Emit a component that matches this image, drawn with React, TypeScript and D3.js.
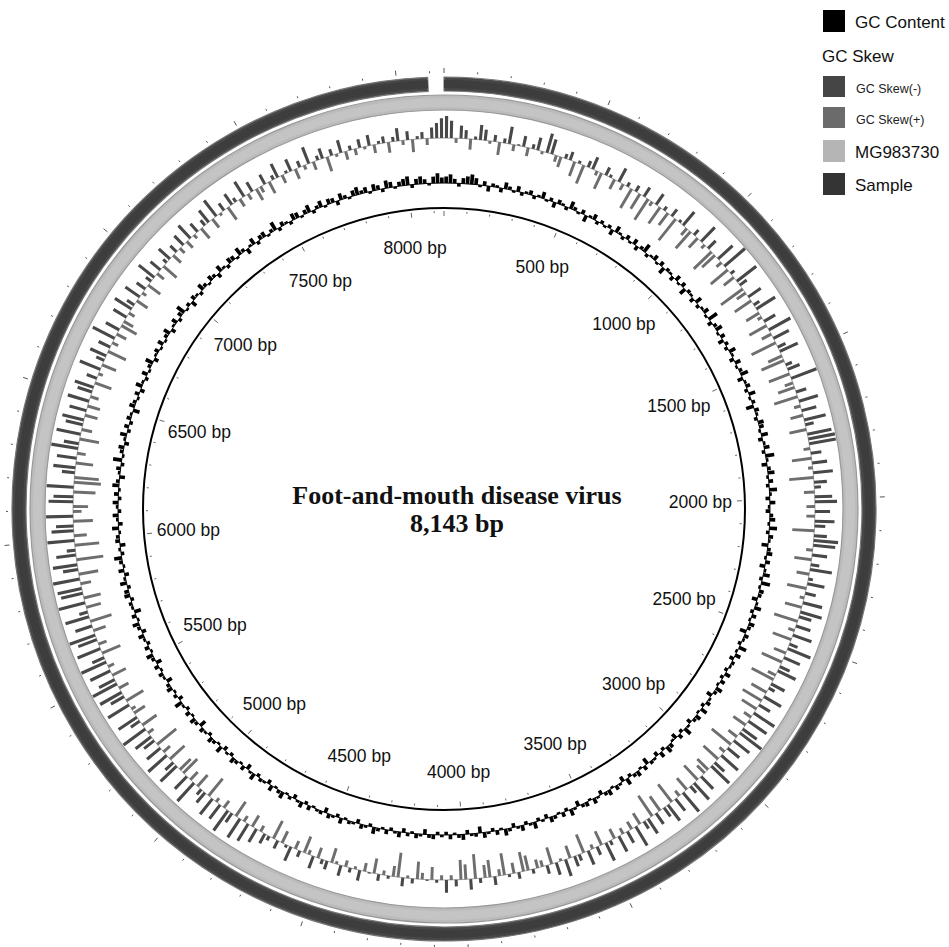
import React from "react";
import * as d3 from "d3";

// ---------- data ----------
const genomeLength = 8143;
const sampleStart = 0;
const sampleEnd = 8094; // Sample track ends just before the origin
const referenceStart = 0;
const referenceEnd = 8143; // MG983730 covers the whole circle
const tickStep = 100;
const labelStep = 500;
const titleLine = "Foot-and-mouth disease virus";
const sizeLine = "8,143 bp";

// GC content deviation per window (clockwise from origin, 480 windows)
const gcContent: number[] = [
  6, 8, 4, -3, 5, 7, 9, 6, -2, 4, -5, 3, 2, -4, 6, 3, -2, 5, -3, 2,
  4, -3, 2, 6, -2, 3, -5, 4, 2, -3, 7, 3, -2, 4, -6, 2, 5, -3, 3, -2,
  3, -5, 6, 2, -3, 4, -2, 5, -4, 3, 8, -3, 2, 5, -2, 4, -6, 3, 2, -4,
  5, -2, 4, -6, 3, 2, -4, 6, -3, 2, 5, -2, 9, -4, 3, 6, -2, 4, -5, 3,
  -3, 6, 2, -4, 5, -2, 3, 7, -5, 2, 4, -3, 6, -2, 3, -7, 4, 2, -3, 5,
  4, -2, 6, -4, 2, 5, -3, 8, 2, -5, 3, 6, -2, 4, -3, 7, 2, -4, 5, -2,
  -4, 3, 5, -2, 7, -3, 4, 2, -6, 3, 5, -2, 4, -5, 2, 6, -3, 8, -2, 4,
  3, -5, 2, 6, -3, 4, -2, 5, 3, -6, 4, 2, -3, 7, -2, 5, -4, 3, 2, -3,
  5, -3, 4, -2, 6, 3, -5, 2, 4, -3, 6, -2, 5, 3, -4, 2, 7, -3, 4, -5,
  -2, 4, 6, -3, 5, -4, 2, 3, -6, 4, -2, 5, 3, -3, 6, -5, 2, 4, -2, 5,
  3, -4, 2, 5, -2, 4, 3, -5, 2, 6, -3, 4, -2, 3, 5, -4, 2, -3, 6, 2,
  -3, 5, 2, -4, 3, 6, -2, 4, -3, 2, 5, -6, 3, 2, -4, 5, 3, -2, 4, -3,
  2, -3, 4, 3, -5, 2, 4, -2, 3, -4, 5, 2, -3, 4, -2, 3, 6, -3, 2, 4,
  -4, 2, 3, -2, 5, -3, 2, 4, -5, 3, 2, -2, 4, -3, 5, 2, -4, 3, -2, 6,
  3, -2, 5, -4, 2, 3, -3, 6, 2, -5, 4, -2, 3, 5, -3, 2, -4, 6, -2, 3,
  5, -3, 2, 4, -6, 3, 5, -2, 4, -3, 2, 7, -4, 3, -2, 5, 3, -5, 2, 4,
  -2, 4, -5, 3, 6, -2, 4, -3, 2, 5, -4, 3, 6, -2, 4, -6, 2, 3, -3, 5,
  4, -3, 6, 2, -4, 5, -2, 3, 7, -3, 2, -5, 4, 3, -2, 6, -4, 2, 5, -3,
  2, 5, -3, 4, -2, 6, 3, -5, 2, 4, -3, 8, -2, 3, 5, -4, 2, 6, -3, 4,
  -3, 4, 2, -6, 5, 3, -2, 4, -4, 6, 2, -3, 5, -2, 3, 7, -4, 2, 4, -2,
  5, -2, 3, 6, -4, 2, 5, -3, 4, 8, -2, 3, -5, 4, 2, -3, 6, 3, -2, 5,
  3, -4, 6, 2, -3, 5, 4, -2, 7, 3, -5, 2, 6, -3, 4, 5, -2, 3, 8, -3,
  4, 2, -3, 6, 5, -2, 4, 7, -3, 3, 6, -2, 5, 4, -4, 6, 3, -2, 5, 7,
  3, 5, -2, 6, 4, -3, 7, 5, -2, 4, 6, 8, -3, 5, 7, 4, -2, 6, 9, 5,
];

// GC skew per window (clockwise from origin, 480 windows)
const gcSkew: number[] = [
  22, 18, -6, 14, 10, -12, 4, 16, 12, -4, 8, -14, 6, 18, -8, 2, 12, -10, 6, 14,
  -4, 20, 16, -8, -12, 6, 10, -16, 4, -20, 8, 14, -6, -18, 10, 4, -12, 16, -8, 6,
  -22, 8, -18, 12, -24, -6, 14, -20, 6, -16, 10, -26, 4, 18, -10, -22, 8, -14, 20, -6,
  12, -24, -18, 20, -8, 26, -22, 6, -14, 24, 10, -26, -12, 16, -20, 8, 22, -16, -6, 14,
  -20, 24, -12, 18, -26, 10, 20, -16, -24, 8, 14, -22, 26, -10, -18, 12, -24, 20, -8, 16,
  -14, 22, 10, -18, 24, 26, 26, -8, 12, -20, 16, -6, 20, -24, 14, 8, -12, 18, 22, -10,
  16, -10, 20, 12, -22, 14, 24, 22, -8, 16, -18, 10, 22, -14, 6, 18, -20, 12, -6, 20,
  -18, 22, 14, -24, 16, -8, 20, -20, 10, 24, -14, 18, -22, 12, 20, -10, -24, 16, 8, -18,
  20, -22, 14, -18, 24, -10, 22, -16, 18, 26, -12, 20, -24, 16, -8, 22, -20, 14, 24, -16,
  -12, 18, -20, 22, 10, -16, 24, -8, 16, -22, 20, 12, -18, 14, -24, 18, 10, -14, 22, -10,
  14, -8, 18, -12, 6, 20, -16, 10, -6, 16, -20, 8, 12, -14, 18, -4, 14, -18, 10, -8,
  -10, 6, -16, -20, 8, -12, 4, -22, -8, 10, -18, -14, 6, -24, 12, -16, -20, 8, -6, 14,
  -6, 4, -14, 2, -8, -18, 6, -4, 10, -24, -12, 4, -6, 8, -16, 2, -10, 12, -4, 6,
  -8, 12, -4, -16, 10, 6, -12, 14, -6, -18, 8, -10, 16, 4, -14, 10, -20, 6, 12, -8,
  16, -14, 20, -8, 22, -18, 12, 24, -10, 18, -6, 20, -22, 14, 8, -16, 24, -12, 18, -20,
  -16, 22, 12, -20, 24, -10, 18, -24, 14, 20, -8, 26, -18, 12, 22, -14, -6, 24, -20, 16,
  24, -12, 26, 18, -16, 22, -8, 26, 14, -20, 24, -10, 20, 26, -14, 18, -22, 24, 10, -16,
  26, -18, 22, 24, -12, 26, -20, 16, 24, -26, 20, 10, -24, 26, -14, 22, 18, -20, 26, -10,
  -16, 24, 20, -22, 26, -26, -24, 14, 22, -18, 20, -10, 26, 16, -20, 24, -12, 18, 22, -14,
  18, -14, 22, -10, 16, 20, -18, 12, -6, 22, -16, 10, 18, -20, 14, -8, 24, -12, 16, -18,
  -12, 16, -8, 20, 10, -14, 18, -6, 12, -16, 8, 20, -10, 14, -18, 6, 16, -12, 10, -8,
  14, -10, 18, -6, 12, -14, 8, 16, -12, 20, -4, 10, -16, 14, 6, -10, 18, -8, 12, -14,
  -8, 12, -14, 6, 16, -10, 4, 14, -12, 8, -6, 18, -10, 6, 12, -16, 8, -4, 14, -10,
  6, -8, 10, -4, 12, -10, 4, 8, -12, 6, 14, -6, 10, -14, 4, 8, -8, 12, 16, 20,
];

const legendLabels = ["GC Content", "GC Skew(-)", "GC Skew(+)", "MG983730", "Sample"];
const legendColors = ["#000000", "#454545", "#6b6b6b", "#b5b5b5", "#343434"];
const legendHeading = "GC Skew";

// ---------- layout ----------
const W = 949;
const H = 947;
const cx = 444;
const cy = 509;
const innerR = 301;
const gcBase = 326;
const skewBase = 371;
const skewFraction = 0.62;
const gcFraction = 0.85;

export default function App() {
  const angle = d3.scaleLinear().domain([0, genomeLength]).range([0, 2 * Math.PI]);
  const gcR = d3.scaleLinear().domain([-12, 12]).range([gcBase - 13, gcBase + 13]);
  // bar length for |skew| (power scale keeps small windows short)
  const skewLen = d3.scalePow().exponent(1.2).domain([0, 26]).range([0, 27]);
  const skewR = (v: number) => skewBase + Math.sign(v) * skewLen(Math.abs(v));
  const arc = d3.arc<any>();

  const gcWin = genomeLength / gcContent.length;
  const skWin = genomeLength / gcSkew.length;

  const ticks = d3.range(0, genomeLength, tickStep);
  const labels = d3.range(labelStep, genomeLength, labelStep);

  const pt = (bp: number, r: number) => {
    const a = angle(bp);
    return [Math.sin(a) * r, -Math.cos(a) * r];
  };

  const ring = (r0: number, r1: number, s: number, e: number) =>
    arc({ innerRadius: r0, outerRadius: r1, startAngle: angle(s), endAngle: angle(e) }) as string;

  const bar = (r: (v: number) => number, v: number, i: number, win: number, frac: number) => {
    const mid = (i + 0.5) * win;
    const half = (win * frac) / 2;
    return arc({
      innerRadius: r(Math.min(0, v)),
      outerRadius: r(Math.max(0, v)),
      startAngle: angle(mid - half),
      endAngle: angle(mid + half),
    }) as string;
  };

  return (
    <svg
      width={W}
      height={H}
      style={{ position: "absolute", left: 0, top: 0, background: "#fff" }}
      fontFamily="Arial, 'Liberation Sans', Helvetica, sans-serif"
    >
      <g transform={`translate(${cx},${cy})`}>
        {/* Sample ring */}
        <path d={ring(418, 432, sampleStart, sampleEnd)} fill="#474747" stroke="#777" strokeWidth={1.2} />
        <path d={ring(421, 429, sampleStart, sampleEnd)} fill="#3d3d3d" />
        {/* MG983730 ring */}
        <path d={ring(399, 414, referenceStart, referenceEnd)} fill="#bbb" stroke="#999" strokeWidth={1.2} />
        <path d={ring(402, 411, referenceStart, referenceEnd)} fill="#c4c4c4" />

        {/* outer ticks */}
        {ticks.map((t) => {
          const major = t % labelStep === 0;
          const [x1, y1] = pt(t, 436);
          const [x2, y2] = pt(t, major ? 441 : 438);
          return <line key={"ot" + t} x1={x1} y1={y1} x2={x2} y2={y2} stroke="#555" strokeWidth={1} />;
        })}

        {/* GC skew */}
        <circle r={skewBase} fill="none" stroke="#8a8a8a" strokeWidth={0.8} />
        {gcSkew.map((v, i) => (
          <path key={"sk" + i} d={bar(skewR, v, i, skWin, skewFraction)} fill={v >= 0 ? "#484848" : "#6e6e6e"} />
        ))}

        {/* GC content */}
        <circle r={gcBase} fill="none" stroke="#000" strokeWidth={1} />
        {gcContent.map((v, i) => (
          <path key={"gc" + i} d={bar(gcR, v, i, gcWin, gcFraction)} fill="#000" />
        ))}

        {/* inner backbone circle */}
        <circle r={innerR} fill="none" stroke="#000" strokeWidth={2} />
        {ticks.map((t) => {
          const major = t % labelStep === 0;
          const [x1, y1] = pt(t, innerR - 3);
          const [x2, y2] = pt(t, innerR - (major ? 8 : 5));
          return <line key={"it" + t} x1={x1} y1={y1} x2={x2} y2={y2} stroke="#666" strokeWidth={1} />;
        })}
        {labels.map((b) => {
          const a = angle(b);
          const txt = `${b} bp`;
          const w = txt.length * 9.0;
          const ext = Math.abs(Math.sin(a)) * (w / 2) + Math.abs(Math.cos(a)) * 6.5;
          const r = 266 - 0.3 * ext;
          const [x, y] = pt(b, r);
          return (
            <text key={"lb" + b} x={x} y={y} textAnchor="middle" dominantBaseline="central" fontSize={17.5} fill="#111">
              {txt}
            </text>
          );
        })}
      </g>

      {/* title */}
      <g fontFamily="'Liberation Serif', 'Times New Roman', serif" fontWeight="bold" fill="#111" textAnchor="middle">
        <text x={457} y={504} fontSize={26}>{titleLine}</text>
        <text x={457} y={532} fontSize={26}>{sizeLine}</text>
      </g>

      {/* legend */}
      <g>
        <rect x={823} y={10} width={22} height={22} fill={legendColors[0]} />
        <text x={855} y={28} fontSize={17} fill="#111">{legendLabels[0]}</text>
        <text x={822} y={62} fontSize={17} fill="#111">{legendHeading}</text>
        <rect x={823} y={76} width={22} height={21} fill={legendColors[1]} />
        <text x={856} y={93} fontSize={12.5} fill="#222">{legendLabels[1]}</text>
        <rect x={823} y={107} width={22} height={21} fill={legendColors[2]} />
        <text x={856} y={124} fontSize={12.5} fill="#222">{legendLabels[2]}</text>
        <rect x={823} y={140} width={22} height={22} fill={legendColors[3]} />
        <text x={855} y={158} fontSize={17} fill="#111">{legendLabels[3]}</text>
        <rect x={823} y={173} width={22} height={22} fill={legendColors[4]} />
        <text x={855} y={191} fontSize={17} fill="#111">{legendLabels[4]}</text>
      </g>
    </svg>
  );
}
